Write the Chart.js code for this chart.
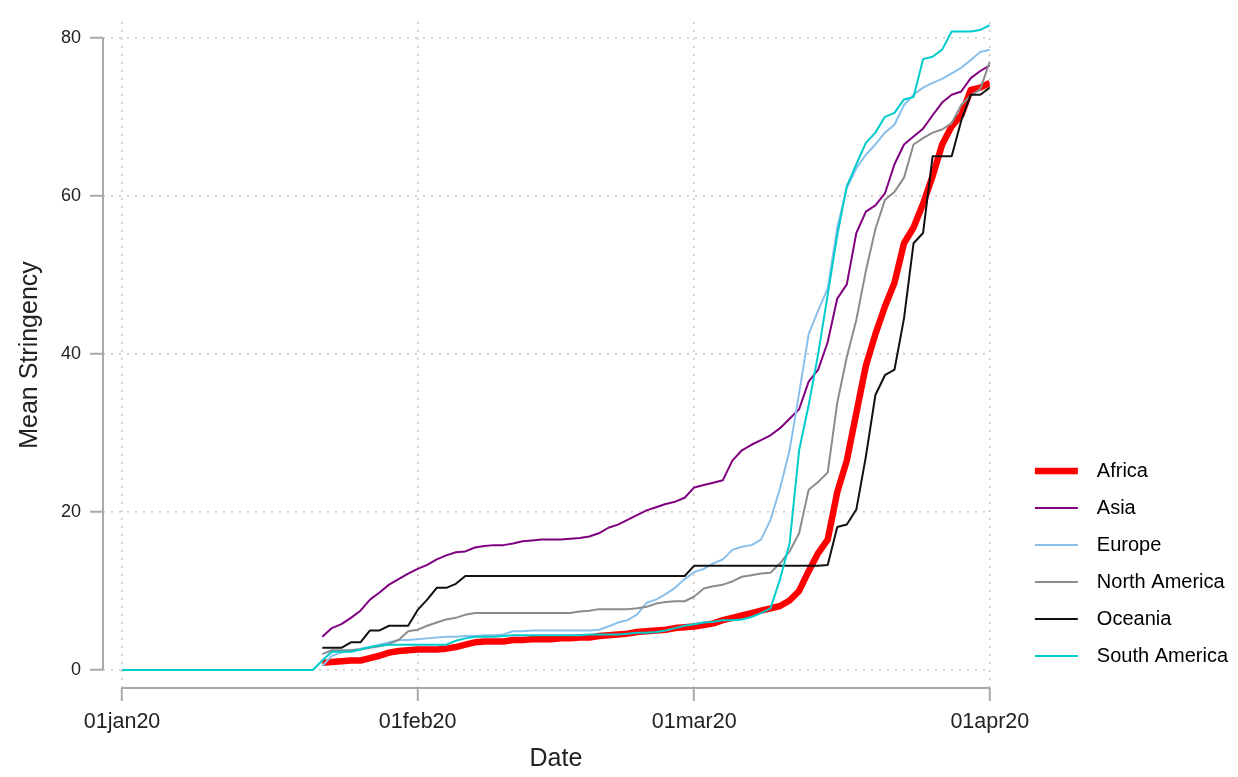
<!DOCTYPE html>
<html>
<head>
<meta charset="utf-8">
<script src="https://cdn.jsdelivr.net/npm/chart.js@4.4.1/dist/chart.umd.min.js"></script>
<style>
  body { margin: 0; background: #ffffff; }
  #wrap { width: 1238px; height: 777px; }
</style>
</head>
<body>
<div id="wrap"><canvas id="chartjs-0" width="1238" height="777"></canvas></div>
<script>
// days since 01jan20
const dayNum = [0,1,2,3,4,5,6,7,8,9,10,11,12,13,14,15,16,17,18,19,20,
  21,22,23,24,25,26,27,28,29,30,31,32,33,34,35,36,37,38,39,40,
  41,42,43,44,45,46,47,48,49,50,51,52,53,54,55,56,57,58,59,60,
  61,62,63,64,65,66,67,68,69,70,71,72,73,74,75,76,77,78,79,80,
  81,82,83,84,85,86,87,88,89,90,91];

const tickDays = [0, 31, 60, 91];
const tickLabels = ["01jan20", "01feb20", "01mar20", "01apr20"];
const yTicks = [0, 20, 40, 60, 80];
const xTitle = "Date";
const yTitle = "Mean Stringency";

const regions = ["Africa", "Asia", "Europe", "North America", "Oceania", "South America"];

const africa = [null,null,null,null,null,null,null,null,null,null,null,null,null,null,null,null,null,null,null,null,null,
  0.9,1.0,1.1,1.2,1.2,1.5,1.8,2.2,2.4,2.5,2.6,2.6,2.6,2.7,2.9,3.2,3.5,3.6,3.6,3.6,
  3.8,3.8,3.9,3.9,3.9,4.0,4.0,4.1,4.1,4.3,4.4,4.5,4.6,4.8,4.9,5.0,5.1,5.3,5.4,5.5,
  5.7,5.9,6.3,6.6,6.9,7.2,7.5,7.8,8.1,8.8,10.0,12.5,14.8,16.5,22.5,26.5,32.5,38.5,42.5,46.0,
  49.0,54.0,56.0,59.0,62.5,66.5,68.8,70.2,73.4,73.7,74.3];

const asia = [null,null,null,null,null,null,null,null,null,null,null,null,null,null,null,null,null,null,null,null,null,
  4.2,5.3,5.8,6.6,7.5,8.9,9.8,10.8,11.5,12.2,12.8,13.3,14.0,14.5,14.9,15.0,15.5,15.7,15.8,15.8,
  16.0,16.3,16.4,16.5,16.5,16.5,16.6,16.7,16.9,17.3,18.0,18.4,19.0,19.6,20.2,20.6,21.0,21.3,21.8,23.1,
  23.4,23.7,24.0,26.5,27.8,28.5,29.1,29.7,30.6,31.8,33.0,36.5,38.0,41.5,47.0,48.8,55.3,58.0,58.8,60.3,
  64.0,66.5,67.5,68.5,70.2,71.8,72.8,73.2,74.9,75.8,76.5];

const europe = [null,null,null,null,null,null,null,null,null,null,null,null,null,null,null,null,null,null,null,null,null,
  0.5,1.8,2.2,2.5,2.7,2.9,3.2,3.5,3.8,3.8,3.9,4.0,4.1,4.2,4.2,4.3,4.3,4.4,4.4,4.5,
  4.9,4.9,5.0,5.0,5.0,5.0,5.0,5.0,5.0,5.1,5.5,6.0,6.3,7.0,8.5,8.9,9.6,10.4,11.5,12.4,
  12.8,13.5,14.0,15.2,15.6,15.8,16.5,19.0,23.0,27.8,35.0,42.5,45.5,48.3,56.0,61.0,63.5,65.2,66.5,68.0,
  69.0,71.5,72.8,73.7,74.3,74.8,75.5,76.2,77.2,78.2,78.5];

const northAmerica = [null,null,null,null,null,null,null,null,null,null,null,null,null,null,null,null,null,null,null,null,null,
  2.0,2.5,2.5,2.5,2.6,2.8,3.0,3.3,3.8,4.9,5.1,5.6,6.0,6.4,6.6,7.0,7.2,7.2,7.2,7.2,
  7.2,7.2,7.2,7.2,7.2,7.2,7.2,7.4,7.5,7.7,7.7,7.7,7.7,7.8,8.0,8.4,8.6,8.7,8.7,9.3,
  10.3,10.6,10.8,11.2,11.8,12.0,12.2,12.3,13.5,15.0,17.3,22.8,23.8,25.0,33.8,39.6,44.3,50.5,55.8,59.5,
  60.5,62.3,66.5,67.3,68.0,68.4,69.2,71.5,72.7,73.5,77.0];

const oceania = [null,null,null,null,null,null,null,null,null,null,null,null,null,null,null,null,null,null,null,null,null,
  2.8,2.8,2.8,3.5,3.5,5.0,5.0,5.6,5.6,5.6,7.6,8.9,10.4,10.4,10.9,11.9,11.9,11.9,11.9,11.9,
  11.9,11.9,11.9,11.9,11.9,11.9,11.9,11.9,11.9,11.9,11.9,11.9,11.9,11.9,11.9,11.9,11.9,11.9,11.9,13.2,
  13.2,13.2,13.2,13.2,13.2,13.2,13.2,13.2,13.2,13.2,13.2,13.2,13.2,13.3,18.1,18.4,20.3,27.0,34.8,37.3,
  38.0,44.5,54.0,55.3,65.0,65.0,65.0,69.5,72.8,72.8,73.7];

const southAmerica = [0,0,0,0,0,0,0,0,0,0,0,0,0,0,0,0,0,0,0,0,0,
  1.2,2.3,2.3,2.3,2.6,2.9,3.1,3.2,3.2,3.2,3.2,3.2,3.2,3.2,3.7,4.0,4.2,4.2,4.2,4.3,
  4.4,4.4,4.4,4.4,4.4,4.4,4.4,4.4,4.5,4.5,4.5,4.5,4.6,4.7,4.7,4.8,5.0,5.3,5.6,5.8,
  6.0,6.1,6.3,6.3,6.4,6.7,7.2,7.8,11.5,16.0,27.8,33.5,40.0,47.5,55.0,61.2,64.0,66.7,68.0,70.0,
  70.5,72.2,72.5,77.3,77.6,78.5,80.8,80.8,80.8,81.0,81.6];

const colors = ["#ff0000", "#800080", "#89c0eb", "#8c8c8c", "#111111", "#00cccc"];
const widths = [6.5, 2, 2, 2, 2, 2];

function toPoints(values) {
    let pts = [];
    for (let i = 0; i < dayNum.length; i++) {
        if (values[i] !== null) {
            pts.push({x: dayNum[i], y: values[i]});
        }
    }
    return pts;
}

// little line sample used as legend symbol
function legendLine(color, lw) {
    let c = document.createElement("canvas");
    c.width = 80;
    c.height = 10;
    let g = c.getContext("2d");
    g.strokeStyle = color;
    g.lineWidth = lw;
    g.beginPath();
    g.moveTo(28, 5);
    g.lineTo(71, 5);
    g.stroke();
    return c;
}

const allSeries = [africa, asia, europe, northAmerica, oceania, southAmerica];
let datasets = [];
for (let i = 0; i < regions.length; i++) {
    datasets.push({
        label: regions[i],
        data: toPoints(allSeries[i]),
        borderColor: colors[i],
        borderWidth: widths[i],
        pointRadius: 0,
        tension: 0,
        fill: false,
        borderJoinStyle: "round",
        order: regions.length - i
    });
}

const fontMain = "'Liberation Sans', Arial, sans-serif";

// axis lines only span the tick range (Stata style), x title centred on that range
const axisLines = {
    id: "axisLines",
    afterLayout(chart) {
        // nudge legend up a little
        chart.legend.top -= 5;
        chart.legend.bottom -= 5;
    },
    afterDatasetsDraw(chart) {
        const ctx = chart.ctx;
        const xs = chart.scales.x;
        const ys = chart.scales.y;
        const area = chart.chartArea;
        const x0 = xs.getPixelForValue(tickDays[0]);
        const x1 = xs.getPixelForValue(tickDays[tickDays.length - 1]);
        ctx.save();
        ctx.strokeStyle = "#a9a9a9";
        ctx.lineWidth = 2;
        ctx.beginPath();
        ctx.moveTo(area.left, ys.getPixelForValue(yTicks[0]));
        ctx.lineTo(area.left, ys.getPixelForValue(yTicks[yTicks.length - 1]));
        ctx.moveTo(x0, area.bottom);
        ctx.lineTo(x1, area.bottom);
        ctx.stroke();
        ctx.fillStyle = "#222222";
        ctx.font = "25px " + fontMain;
        ctx.textAlign = "center";
        ctx.textBaseline = "middle";
        ctx.fillText(xTitle, (x0 + x1) / 2, 759);
        ctx.restore();
    }
};

let ctx0 = document.getElementById("chartjs-0");
let myChart0 = new Chart(ctx0, {
    type: "line",
    data: { datasets: datasets },
    plugins: [axisLines],
    options: {
        responsive: false,
        animation: false,
        layout: { padding: { top: 22, left: 0, bottom: 0, right: 0 } },
        plugins: {
            tooltip: { enabled: false },
            legend: {
                position: "right",
                align: "end",
                fullSize: false,
                labels: {
                    usePointStyle: true,
                    pointStyleWidth: 80,
                    padding: 17,
                    color: "#222222",
                    font: { family: fontMain, size: 20 },
                    generateLabels: function(chart) {
                        return chart.data.datasets.map(function(ds, i) {
                            return {
                                text: ds.label,
                                fillStyle: ds.borderColor,
                                strokeStyle: ds.borderColor,
                                lineWidth: 0,
                                pointStyle: legendLine(ds.borderColor, ds.borderWidth),
                                hidden: false,
                                datasetIndex: i
                            };
                        });
                    }
                }
            }
        },
        scales: {
            x: {
                type: "linear",
                min: -2,
                max: 91,
                afterBuildTicks: function(scale) {
                    scale.ticks = tickDays.map(function(d) { return {value: d}; });
                },
                afterFit: function(scale) { scale.height = 89; },
                ticks: {
                    autoSkip: false,
                    maxRotation: 0,
                    padding: 8,
                    color: "#222222",
                    font: { family: fontMain, size: 21.5 },
                    callback: function(value) {
                        let k = tickDays.indexOf(value);
                        return k >= 0 ? tickLabels[k] : "";
                    }
                },
                grid: {
                    color: "#c8c8c8",
                    lineWidth: 1.5,
                    tickColor: "#a9a9a9",
                    tickWidth: 2,
                    tickLength: 13
                },
                border: { display: false, dash: [2, 6] },
                title: { display: false }
            },
            y: {
                type: "linear",
                min: -2.28,
                max: 82,
                afterBuildTicks: function(scale) {
                    scale.ticks = yTicks.map(function(v) { return {value: v}; });
                },
                afterFit: function(scale) { scale.width = 103; },
                ticks: {
                    padding: 9,
                    color: "#222222",
                    font: { family: fontMain, size: 18 }
                },
                grid: {
                    color: "#c8c8c8",
                    lineWidth: 1.5,
                    tickColor: "#a9a9a9",
                    tickWidth: 2,
                    tickLength: 13
                },
                border: { display: false, dash: [2, 6] },
                title: {
                    display: true,
                    text: yTitle,
                    color: "#222222",
                    font: { family: fontMain, size: 25 },
                    padding: { top: 15, bottom: 0 }
                }
            }
        }
    }
});
</script>
</body>
</html>
